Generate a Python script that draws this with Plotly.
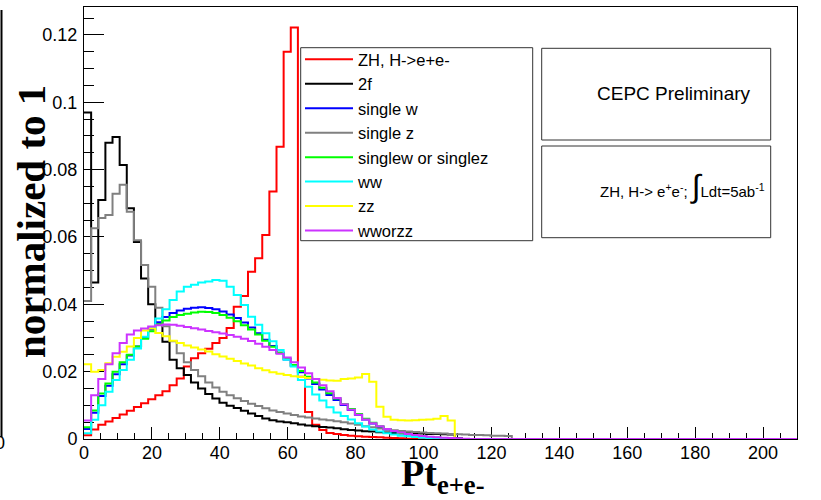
import plotly.graph_objects as go

# Pt of the e+e- pair, 100 bins of 2.1 GeV from 0 to 210, each histogram normalized to 1
bin_width = 2.1
n_bins = 100
bin_edges = [round(i * bin_width, 2) for i in range(n_bins + 1)]

series_names = ["ZH, H->e+e-", "2f", "single w", "single z",
                "singlew or singlez", "ww", "zz", "wworzz"]
series_colors = ["#ff0000", "#000000", "#0000ff", "#808080",
                 "#00ff00", "#00ffff", "#ffff00", "#cc33ff"]

zh_hee = [0.0011, 0.0028, 0.0042, 0.0052, 0.0062, 0.0073, 0.0084, 0.0095, 0.0106, 0.0118,
          0.0130, 0.0142, 0.0160, 0.0180, 0.0215, 0.0240, 0.0255, 0.0268, 0.0285, 0.0300,
          0.0330, 0.0393, 0.0425, 0.0497, 0.0537, 0.0606, 0.0735, 0.0868, 0.1150, 0.1222,
          0.0185, 0.0080, 0.0042, 0.0027, 0.0018, 0.0015, 0.0012, 0.0010, 0.0008, 0.0007,
          0.0006, 0.0005, 0.0004, 0.0003, 0.0002, 0.0001]

two_f = [0.0970, 0.0465, 0.0710, 0.0880, 0.0897, 0.0814, 0.0685, 0.0585, 0.0477, 0.0400,
         0.0340, 0.0289, 0.0235, 0.0210, 0.0190, 0.0168, 0.0150, 0.0134, 0.0120, 0.0108,
         0.0099, 0.0092, 0.0084, 0.0076, 0.0068, 0.0061, 0.0056, 0.0052, 0.0050, 0.0047,
         0.0043, 0.0040, 0.0038, 0.0036, 0.0034, 0.0032, 0.0029, 0.0027, 0.0025, 0.0023,
         0.0022, 0.0020, 0.0019, 0.0018, 0.0017, 0.0017, 0.0016, 0.0016, 0.0015, 0.0015,
         0.0014, 0.0013, 0.0003]

single_w = [0.0030, 0.0078, 0.0128, 0.0158, 0.0192, 0.0222, 0.0248, 0.0275, 0.0300, 0.0325,
            0.0347, 0.0362, 0.0374, 0.0382, 0.0387, 0.0390, 0.0391, 0.0389, 0.0385, 0.0379,
            0.0370, 0.0359, 0.0346, 0.0331, 0.0314, 0.0295, 0.0276, 0.0256, 0.0236, 0.0217,
            0.0198, 0.0180, 0.0163, 0.0147, 0.0131, 0.0116, 0.0101, 0.0086, 0.0072, 0.0058,
            0.0046, 0.0036, 0.0028, 0.0022, 0.0017, 0.0013, 0.0010, 0.0008, 0.0006, 0.0004,
            0.0003, 0.0002, 0.0001]

single_z = [0.0410, 0.0626, 0.0656, 0.0665, 0.0728, 0.0755, 0.0675, 0.0590, 0.0517, 0.0452,
            0.0390, 0.0335, 0.0290, 0.0255, 0.0228, 0.0205, 0.0186, 0.0168, 0.0153, 0.0140,
            0.0130, 0.0121, 0.0113, 0.0105, 0.0098, 0.0091, 0.0085, 0.0080, 0.0076, 0.0071,
            0.0067, 0.0064, 0.0061, 0.0058, 0.0056, 0.0053, 0.0050, 0.0046, 0.0042, 0.0038,
            0.0035, 0.0031, 0.0028, 0.0026, 0.0024, 0.0022, 0.0021, 0.0019, 0.0018, 0.0017,
            0.0016, 0.0015, 0.0014, 0.0013, 0.0012, 0.0012, 0.0011, 0.0010, 0.0010, 0.0009]

single_w_or_z = [0.0035, 0.0085, 0.0135, 0.0165, 0.0200, 0.0228, 0.0250, 0.0275, 0.0298, 0.0320,
                 0.0340, 0.0352, 0.0362, 0.0368, 0.0372, 0.0376, 0.0378, 0.0377, 0.0374, 0.0368,
                 0.0360, 0.0350, 0.0338, 0.0325, 0.0310, 0.0292, 0.0274, 0.0256, 0.0238, 0.0220,
                 0.0202, 0.0185, 0.0168, 0.0152, 0.0136, 0.0120, 0.0104, 0.0089, 0.0074, 0.0060,
                 0.0048, 0.0038, 0.0030, 0.0023, 0.0018, 0.0014, 0.0011, 0.0008, 0.0006, 0.0004,
                 0.0003, 0.0002, 0.0001]

ww = [0.0017, 0.0057, 0.0100, 0.0140, 0.0175, 0.0205, 0.0235, 0.0269, 0.0304, 0.0330,
      0.0358, 0.0385, 0.0413, 0.0438, 0.0452, 0.0458, 0.0465, 0.0468, 0.0472, 0.0470,
      0.0452, 0.0428, 0.0398, 0.0363, 0.0339, 0.0314, 0.0290, 0.0264, 0.0235, 0.0215,
      0.0175, 0.0155, 0.0132, 0.0114, 0.0094, 0.0079, 0.0068, 0.0058, 0.0047, 0.0037,
      0.0028, 0.0022, 0.0017, 0.0013, 0.0010, 0.0008, 0.0006, 0.0004, 0.0003, 0.0002,
      0.0001]

zz = [0.0222, 0.0200, 0.0205, 0.0225, 0.0244, 0.0259, 0.0275, 0.0300, 0.0322, 0.0328,
      0.0315, 0.0305, 0.0292, 0.0285, 0.0278, 0.0272, 0.0266, 0.0260, 0.0252, 0.0245,
      0.0238, 0.0232, 0.0224, 0.0218, 0.0210, 0.0204, 0.0198, 0.0194, 0.0190, 0.0186,
      0.0184, 0.0181, 0.0178, 0.0176, 0.0174, 0.0173, 0.0178, 0.0180, 0.0183, 0.0193,
      0.0170, 0.0096, 0.0066, 0.0057, 0.0056, 0.0055, 0.0056, 0.0057, 0.0058, 0.0060,
      0.0068, 0.0055]

ww_or_zz = [0.0055, 0.0130, 0.0178, 0.0222, 0.0255, 0.0285, 0.0310, 0.0322, 0.0328, 0.0334,
            0.0338, 0.0340, 0.0339, 0.0336, 0.0333, 0.0329, 0.0325, 0.0321, 0.0317, 0.0313,
            0.0309, 0.0304, 0.0298, 0.0291, 0.0283, 0.0274, 0.0264, 0.0253, 0.0242, 0.0228,
            0.0212, 0.0195, 0.0178, 0.0160, 0.0142, 0.0122, 0.0103, 0.0087, 0.0072, 0.0058,
            0.0047, 0.0038, 0.0030, 0.0024, 0.0019, 0.0015, 0.0012, 0.0009, 0.0007, 0.0005,
            0.0004, 0.0003, 0.0002, 0.0001]

all_series = [zh_hee, two_f, single_w, single_z, single_w_or_z, ww, zz, ww_or_zz]


def step_values(contents):
    """Full bin contents (empty tail bins are zero), repeated last value for the hv step."""
    full = list(contents) + [0.0] * (n_bins - len(contents))
    return full + [full[-1]]


fig = go.Figure()
for name, color, contents in zip(series_names, series_colors, all_series):
    fig.add_trace(go.Scatter(
        x=bin_edges, y=step_values(contents), name=name, mode="lines",
        line=dict(color=color, width=2, shape="hv"),
    ))

# plot frame: px 84..797 horizontally, 7..439 vertically
L, R, T, B = 84, 797, 7, 439
W, H = R - L, B - T


def px(xp):
    return (xp - L) / W


def py(yp):
    return (B - yp) / H


axis_font = dict(family="Liberation Sans", size=18, color="black")

fig.update_xaxes(
    range=[0, 210], tick0=0, dtick=20, ticks="inside", ticklen=12, tickwidth=1,
    tickcolor="black", showline=True, linecolor="black", linewidth=1, mirror=True,
    showgrid=False, zeroline=False, tickfont=axis_font, layer="below traces",
    ticklabelstandoff=-3,
    minor=dict(dtick=5, ticks="inside", ticklen=6, tickcolor="black", showgrid=False),
)
fig.update_yaxes(
    range=[0, 0.1283], tick0=0, dtick=0.02, ticks="inside", ticklen=20, tickwidth=1,
    tickcolor="black", showline=True, linecolor="black", linewidth=1, mirror=True,
    showgrid=False, zeroline=False, tickfont=axis_font, layer="below traces",
    ticklabelstandoff=2,
    minor=dict(dtick=0.005, ticks="inside", ticklen=10, tickcolor="black", showgrid=False),
)

box_line = dict(color="#333333", width=1)
shapes = [
    # legend frame
    dict(type="rect", xref="paper", yref="paper", x0=px(300.7), x1=px(532.7),
         y0=py(240.7), y1=py(47.7), line=box_line, fillcolor="white", layer="above"),
    # label boxes
    dict(type="rect", xref="paper", yref="paper", x0=px(541.7), x1=px(770.7),
         y0=py(140), y1=py(48.3), line=box_line, fillcolor="white", layer="above"),
    dict(type="rect", xref="paper", yref="paper", x0=px(541.7), x1=px(770.7),
         y0=py(237.7), y1=py(146), line=box_line, fillcolor="white", layer="above"),
    # edge of the neighbouring pad
    dict(type="line", xref="paper", yref="paper", x0=px(1.5), x1=px(1.5),
         y0=py(437), y1=py(10), line=dict(color="black", width=2)),
]

annotations = [
    dict(text="CEPC Preliminary", xref="paper", yref="paper", x=px(674), y=py(93.5),
         xanchor="center", yanchor="middle", showarrow=False,
         font=dict(family="Liberation Sans", size=19, color="black")),
    dict(text="ZH, H-> e<sup>+</sup>e<sup>-</sup>; <span style='font-size:32px'>∫</span>Ldt=5ab<sup>-1</sup>",
         xref="paper", yref="paper", x=px(598), y=py(186),
         xanchor="left", yanchor="middle", showarrow=False,
         font=dict(family="Liberation Sans", size=15, color="black")),
    dict(text="<b>normalized to 1</b>", xref="paper", yref="paper", x=px(31), y=py(222),
         xanchor="center", yanchor="middle", textangle=-90, showarrow=False,
         font=dict(family="Liberation Serif", size=41, color="black")),
    dict(text="<b>Pt<sub>e+e-</sub></b>", xref="paper", yref="paper", x=px(443), y=py(476),
         xanchor="center", yanchor="middle", showarrow=False,
         font=dict(family="Liberation Serif", size=38, color="black")),
    dict(text="0", xref="paper", yref="paper", x=px(0), y=py(443),
         xanchor="center", yanchor="middle", showarrow=False,
         font=dict(family="Liberation Sans", size=18, color="black")),
]

fig.update_layout(
    width=821, height=500,
    margin=dict(l=L, r=821 - R, t=T, b=500 - B),
    paper_bgcolor="white", plot_bgcolor="white",
    font=dict(family="Liberation Sans", color="black"),
    shapes=shapes, annotations=annotations,
    legend=dict(x=px(300), y=py(42.1), xanchor="left", yanchor="top",
                bgcolor="rgba(0,0,0,0)", borderwidth=0, itemwidth=48,
                tracegroupgap=0,
                font=dict(family="Liberation Sans", size=16.5, color="black")),
)

fig.write_html("out.html")
